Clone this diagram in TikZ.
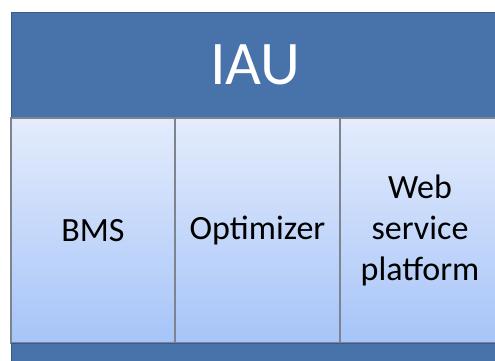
\documentclass[tikz,border=0pt]{standalone}
\usepackage{fontspec}
\setmainfont{Carlito}
\usetikzlibrary{positioning}
\definecolor{barblue}{RGB}{72,114,170}
\definecolor{celltop}{RGB}{228,236,252}
\definecolor{cellbot}{RGB}{166,196,248}
\definecolor{cellline}{RGB}{125,132,142}

\begin{document}
\begin{tikzpicture}[x = 1pt, y = 1pt,
		bar/.style = {fill = barblue, draw = barblue!80!black, line width = 0.6pt, inner sep = 0pt, outer sep = 0pt, anchor = north west, text = white},
		cell/.style = {top color = celltop, bottom color = cellbot, draw = cellline, line width = 1.1pt, inner sep = 0pt, outer sep = 0pt, anchor = north west, minimum height = 225pt, align = center, font = \fontsize{34}{41}\selectfont}]
	\useasboundingbox[fill = white] (0, 0) rectangle (495, 361);
	\clip (0, 0) rectangle (495, 361);
	\node[bar, minimum width = 489pt, minimum height = 106pt, font = \fontsize{62}{70}\selectfont] (iau) at (11, 349) {IAU};
	\node[cell, minimum width = 164pt] (bms) at (11, 243) {BMS};
	\node[cell, minimum width = 165pt, right = 0pt of bms.north east, anchor = north west] (opt) {Optimizer};
	\node[cell, minimum width = 160pt, right = 0pt of opt.north east, anchor = north west] (web) {Web\\service\\platform};
	\node[bar, minimum width = 489pt, minimum height = 30pt, below = 0pt of bms.south west, anchor = north west] (base) {};
\end{tikzpicture}
\end{document}
